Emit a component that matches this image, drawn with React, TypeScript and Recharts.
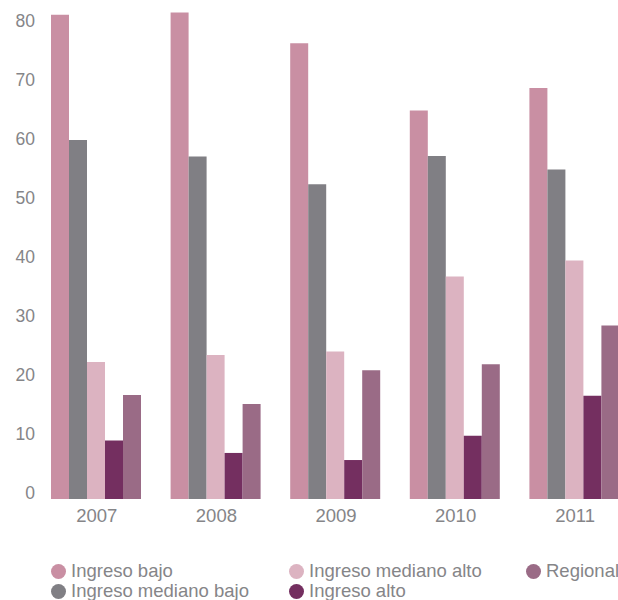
import { BarChart, Bar, XAxis, YAxis } from "recharts";

const years = ["2007", "2008", "2009", "2010", "2011"];
const ingresoBajo = [82.0, 82.4, 77.2, 65.8, 69.6];
const medianoBajo = [60.8, 58.0, 53.3, 58.1, 55.8];
const medianoAlto = [23.2, 24.4, 25.0, 37.7, 40.4];
const ingresoAlto = [9.9, 7.8, 6.6, 10.7, 17.5];
const regional = [17.6, 16.1, 21.8, 22.8, 29.4];
const yTicks = [0, 10, 20, 30, 40, 50, 60, 70, 80];

const series = [
  { key: "bajo", name: "Ingreso bajo", color: "#C98FA3" },
  { key: "medBajo", name: "Ingreso mediano bajo", color: "#807F84" },
  { key: "medAlto", name: "Ingreso mediano alto", color: "#DCB3C1" },
  { key: "alto", name: "Ingreso alto", color: "#742F60" },
  { key: "regional", name: "Regional", color: "#9A6B86" },
];

const data = years.map((y, i) => ({
  year: y,
  bajo: ingresoBajo[i],
  medBajo: medianoBajo[i],
  medAlto: medianoAlto[i],
  alto: ingresoAlto[i],
  regional: regional[i],
}));

const font = "'Liberation Sans', Arial, sans-serif";
const textColor = "#858588";

const YTick = (props: any) => {
  const { x, y, payload } = props;
  return (
    <text
      x={x}
      y={y}
      dy={-6}
      textAnchor="end"
      dominantBaseline="central"
      fill={textColor}
      fontFamily={font}
      fontSize={17.5}
    >
      {payload.value}
    </text>
  );
};

// legend laid out in three columns like the original
const legendSpots = [
  { left: 51, top: 562 },
  { left: 51, top: 582 },
  { left: 289, top: 562 },
  { left: 289, top: 582 },
  { left: 526, top: 562 },
];

export default function App() {
  return (
    <div
      style={{
        position: "absolute",
        left: 0,
        top: 0,
        width: 618,
        height: 600,
        overflow: "hidden",
        background: "#fff",
      }}
    >
      <BarChart
        width={640}
        height={529}
        data={data}
        margin={{ top: 3, right: 5, left: 0, bottom: 0 }}
        barCategoryGap={14}
        barGap={0}
      >
        <XAxis
          dataKey="year"
          axisLine={false}
          tickLine={false}
          tickSize={0}
          tickMargin={10}
          height={30}
          tick={{ fill: textColor, fontFamily: font, fontSize: 18.5 }}
        />
        <YAxis
          domain={[0, 84]}
          ticks={yTicks}
          axisLine={false}
          tickLine={false}
          tickSize={0}
          width={37}
          tick={<YTick />}
        />
        {series.map((s) => (
          <Bar
            key={s.key}
            dataKey={s.key}
            name={s.name}
            fill={s.color}
            isAnimationActive={false}
          />
        ))}
      </BarChart>
      {series.map((s, i) => (
        <div
          key={s.key}
          style={{
            position: "absolute",
            left: legendSpots[i].left,
            top: legendSpots[i].top,
            display: "flex",
            alignItems: "center",
            fontFamily: font,
            fontSize: 18.5,
            color: textColor,
            lineHeight: "18px",
            whiteSpace: "nowrap",
          }}
        >
          <span
            style={{
              display: "inline-block",
              width: 15,
              height: 15,
              borderRadius: "50%",
              background: s.color,
              marginRight: 5,
            }}
          />
          {s.name}
        </div>
      ))}
    </div>
  );
}
